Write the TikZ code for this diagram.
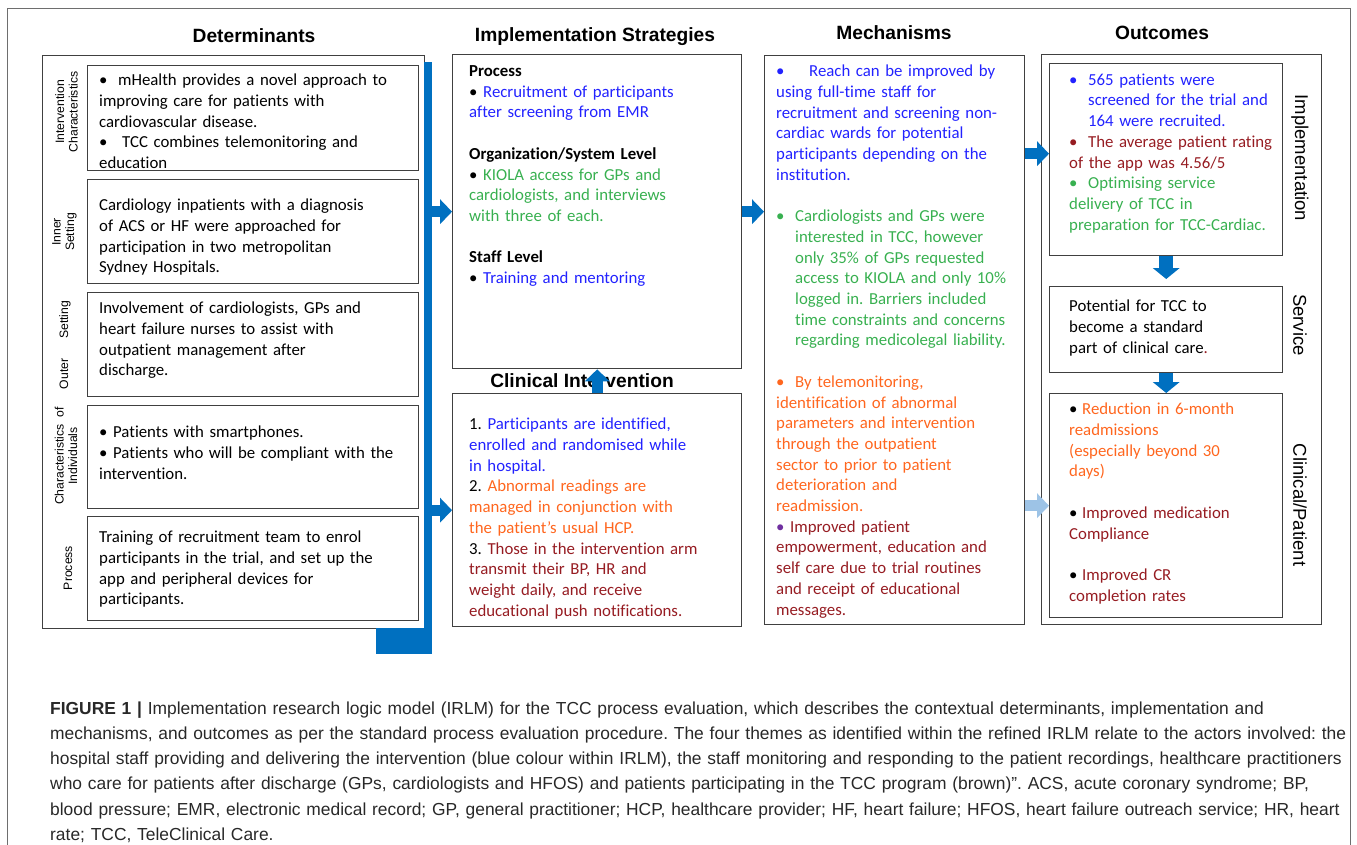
\documentclass[tikz,border=0pt]{standalone}
\usepackage{fontspec}
\setmainfont{Carlito}[Ligatures=NoCommon]
\newfontfamily\arialfont{Liberation Sans}
\usetikzlibrary{arrows.meta}
\setlength{\parindent}{0pt}
\frenchspacing
\definecolor{txtblue}{RGB}{34,34,255}
\definecolor{txtgreen}{RGB}{56,176,80}
\definecolor{txtorange}{RGB}{255,102,30}
\definecolor{txtbrown}{RGB}{150,28,34}
\definecolor{bulletpurple}{RGB}{112,48,160}
\definecolor{arrowblue}{RGB}{0,112,192}
\definecolor{arrowlight}{RGB}{157,195,230}
\definecolor{boxgray}{RGB}{64,64,64}
\definecolor{framegray}{RGB}{110,110,110}
\definecolor{capgray}{RGB}{40,40,40}
\begin{document}
\begin{tikzpicture}[x=1pt,y=-1pt,
  panel/.style={draw=boxgray, line width=1.4pt, inner sep=0pt, anchor=north west},
  bodytext/.style={anchor=north west, inner sep=0pt, align=left, text width=340pt,
    font=\fontsize{16.8}{20.7}\selectfont},
  coltitle/.style={anchor=base, inner sep=0pt, font=\arialfont\bfseries\fontsize{19.2}{22}\selectfont},
  sidelabel/.style={inner sep=0pt, align=center, rotate=90,
    font=\arialfont\fontsize{12.2}{13.5}\selectfont},
  outlabel/.style={inner sep=0pt, rotate=-90, font=\arialfont\fontsize{18.5}{22}\selectfont},
  blockarrow/.style={draw=arrowblue, line width=11pt,
    -{Triangle[width=25pt,length=12pt,line width=0pt]}}]
\useasboundingbox (0,0) rectangle (1357,845);
% Frame
\draw[framegray, line width=0.8pt] (7,850) -- (7,8) -- (1350,8) -- (1350,850);
% Determinants
\node[coltitle] (dettitle) at (254,43) {Determinants};
\node[panel, minimum width=382pt, minimum height=573pt] (detframe) at (42,55) {};
\begin{scope}
\clip (87,65) rectangle (418,170);
\node[bodytext] (detinttext) at (99,74) {\makebox[19pt][l]{•}mHealth provides a novel approach to\\
  improving care for patients with\\ cardiovascular disease.\\
  \makebox[23pt][l]{•}TCC combines telemonitoring and\\ education};
\end{scope}
\node[panel, minimum width=331pt, minimum height=105pt] (detint) at (87,65) {};
\node[panel, minimum width=331pt, minimum height=104pt] (detinner) at (87,179) {};
\node[bodytext] (detinnertext) at (99,199) {Cardiology inpatients with a diagnosis\\
  of ACS or HF were approached for\\ participation in two metropolitan\\ Sydney Hospitals.};
\node[panel, minimum width=331pt, minimum height=104pt] (detouter) at (87,292) {};
\node[bodytext] (detoutertext) at (99,302) {Involvement of cardiologists, GPs and\\
  heart failure nurses to assist with\\ outpatient management after\\ discharge.};
\node[panel, minimum width=331pt, minimum height=103pt] (detindiv) at (87,405) {};
\node[bodytext] (detindivtext) at (99,426) {• Patients with smartphones.\\
  • Patients who will be compliant with the\\ intervention.};
\node[panel, minimum width=331pt, minimum height=104pt] (detproc) at (87,516) {};
\node[bodytext] (detproctext) at (99,531) {Training of recruitment team to enrol\\
  participants in the trial, and set up the\\ app and peripheral devices for\\ participants.};
% Side labels
\node[sidelabel] (lblint) at (66.5,112) {Intervention\\Characteristics};
\node[sidelabel] (lblinner) at (64.5,232) {Inner\\Setting};
\node[sidelabel] (lblouter) at (65,345) {Outer\hspace{20pt}Setting};
\node[sidelabel] (lblindiv) at (66,456) {Characteristics\ \ of\\Individuals};
\node[sidelabel] (lblproc) at (68,568) {Process};
% Blue bar
\node[fill=arrowblue, inner sep=0pt, minimum width=8pt, minimum height=592pt, anchor=north west] (detbar) at (424,62) {};
\fill[arrowblue] (376,628) rectangle (432,654);
% Implementation strategies
\node[coltitle] (strattitle) at (595,42) {Implementation Strategies};
\node[panel, minimum width=289pt, minimum height=314pt] (strat) at (452,54) {};
\node[bodytext] (strattext) at (469,65.5) {\textbf{Process}\\
  • {\color{txtblue}Recruitment of participants\\ after screening from EMR}\\[20.7pt]
  \textbf{Organization/System Level}\\
  • {\color{txtgreen}KIOLA access for GPs and\\ cardiologists, and interviews\\ with three of each.}\\[20.7pt]
  \textbf{Staff Level}\\
  • {\color{txtblue}Training and mentoring}};
% Clinical intervention
\node[coltitle] (clintitle) at (582,387) {Clinical Intervention};
\node[panel, minimum width=289pt, minimum height=233pt] (clin) at (452,393) {};
\node[bodytext] (clintext) at (469,418) {1. {\color{txtblue}Participants are identified,\\
  enrolled and randomised while\\ in hospital.}\\
  2. {\color{txtorange}Abnormal readings are\\ managed in conjunction with\\ the patient's usual HCP.}\\
  3. {\color{txtbrown}Those in the intervention arm\\ transmit their BP, HR and\\
  weight daily, and receive\\ educational push notifications.}};
% Mechanisms
\node[coltitle] (mechtitle) at (894,40) {Mechanisms};
\node[panel, minimum width=260pt, minimum height=569pt] (mech) at (764,55) {};
\node[bodytext] (mechtext) at (776,65) {{\color{txtblue}\makebox[33pt][l]{•}Reach can be improved by\\
  using full-time staff for\\ recruitment and screening non-\\ cardiac wards for potential\\
  participants depending on the\\ institution.}\\[20.7pt]
  {\color{txtgreen}\makebox[19pt][l]{•}Cardiologists and GPs were\\
  \hspace*{19pt}interested in TCC, however\\ \hspace*{19pt}only 35\% of GPs requested\\
  \hspace*{19pt}access to KIOLA and only 10\%\\ \hspace*{19pt}logged in. Barriers included\\
  \hspace*{19pt}time constraints and concerns\\ \hspace*{19pt}regarding medicolegal liability.}\\[20.7pt]
  {\color{txtorange}\makebox[19pt][l]{•}By telemonitoring,\\ identification of abnormal\\
  parameters and intervention\\ through the outpatient\\ sector to prior to patient\\
  deterioration and\\ readmission.}\\
  {\color{bulletpurple}•} {\color{txtbrown}Improved patient\\ empowerment, education and\\
  self care due to trial routines\\ and receipt of educational\\ messages.}};
% Outcomes
\node[coltitle] (outtitle) at (1162,40) {Outcomes};
\node[panel, minimum width=280pt, minimum height=570pt] (outframe) at (1041,54) {};
\node[panel, minimum width=233pt, minimum height=192pt] (implout) at (1049,63) {};
\node[bodytext] (impltext) at (1069,73.5) {{\color{txtblue}\makebox[19pt][l]{•}565 patients were\\
  \hspace*{19pt}screened for the trial and\\ \hspace*{19pt}164 were recruited.}\\
  {\color{txtbrown}\makebox[19pt][l]{•}The average patient rating\\ of the app was 4.56/5}\\
  {\color{txtgreen}\makebox[19pt][l]{•}Optimising service\\ delivery of TCC in\\ preparation for TCC-Cardiac.}};
\node[panel, minimum width=233pt, minimum height=86pt] (service) at (1049,286) {};
\node[bodytext] (servicetext) at (1069,300) {Potential for TCC to\\ become a standard\\
  part of clinical care{\color{txtbrown}.}};
\node[panel, minimum width=233pt, minimum height=224pt] (clinout) at (1049,393) {};
\node[bodytext] (clinouttext) at (1069,403) {\makebox[13pt][l]{•}{\color{txtorange}Reduction in 6-month\\
  readmissions\\ (especially beyond 30\\ days)}\\[20.7pt]
  \makebox[13pt][l]{•}{\color{txtbrown}Improved medication\\ Compliance}\\[20.7pt]
  \makebox[13pt][l]{•}{\color{txtbrown}Improved CR\\ completion rates}};
\node[outlabel] (lblimpl) at (1300,158) {Implementation};
\node[outlabel] (lblservice) at (1300,325) {Service};
\node[outlabel] (lblclinical) at (1300,505) {Clinical/Patient};
% Arrows
\coordinate (mechout) at ([yshift=6pt]implout.west);
\draw[blockarrow] (detbar.east |- strat.west) -- (strat.west);
\draw[blockarrow] (detbar.east |- clin.west) -- (clin.west);
\draw[blockarrow] (clin.north) -- (strat.south);
\draw[blockarrow] (strat.east) -- (strat.east -| mech.west);
\draw[blockarrow] (mech.east |- mechout) -- (mechout);
\draw[blockarrow, draw=arrowlight] (mech.east |- clinout.west) -- (clinout.west);
\draw[blockarrow, line width=14pt, -{Triangle[width=27pt,length=11pt,line width=0pt]}]
  (implout.south) -- ([yshift=7pt]service.north);
\draw[blockarrow, line width=14pt, -{Triangle[width=27pt,length=11pt,line width=0pt]}]
  (service.south) -- (clinout.north);
% Caption
\node[anchor=north west, inner sep=0pt, align=left, text width=1400pt, text=capgray,
  font=\arialfont\fontsize{17.4}{25.2}\selectfont] (caption) at (50,701.5)
  {\textbf{FIGURE 1 |} Implementation research logic model (IRLM) for the TCC process evaluation, which describes the contextual determinants, implementation and\\
  mechanisms, and outcomes as per the standard process evaluation procedure. The four themes as identified within the refined IRLM relate to the actors involved: the\\
  hospital staff providing and delivering the intervention (blue colour within IRLM), the staff monitoring and responding to the patient recordings, healthcare practitioners\\
  who care for patients after discharge (GPs, cardiologists and HFOS) and patients participating in the TCC program (brown)”. ACS, acute coronary syndrome; BP,\\
  blood pressure; EMR, electronic medical record; GP, general practitioner; HCP, healthcare provider; HF, heart failure; HFOS, heart failure outreach service; HR, heart\\
  rate; TCC, TeleClinical Care.};
\end{tikzpicture}
\end{document}
